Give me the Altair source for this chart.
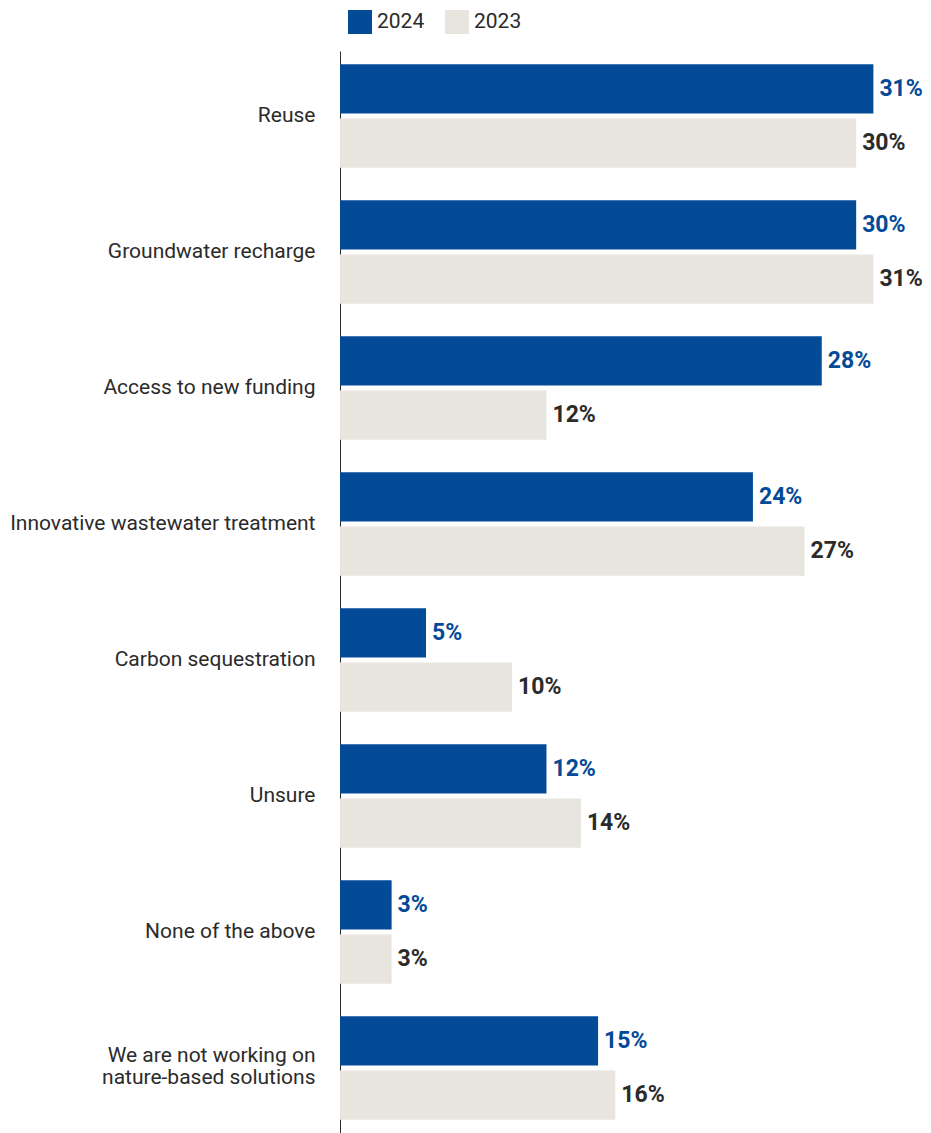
import altair as alt
import pandas as pd

categories = [
    "Reuse",
    "Groundwater recharge",
    "Access to new funding",
    "Innovative wastewater treatment",
    "Carbon sequestration",
    "Unsure",
    "None of the above",
    "We are not working on nature-based solutions",
]
values_2024 = [31, 30, 28, 24, 5, 12, 3, 15]
values_2023 = [30, 31, 12, 27, 10, 14, 3, 16]
years = ["2024", "2023"]

rows = []
for c, v24, v23 in zip(categories, values_2024, values_2023):
    rows.append({"category": c, "year": "2024", "value": v24})
    rows.append({"category": c, "year": "2023", "value": v23})
df = pd.DataFrame(rows)

BLUE = "#034A97"
BEIGE = "#E8E5DE"
DARK = "#2B2B2B"
FONT = "Roboto"

LONG = "We are not working on nature-based solutions"
label_expr = (
    f"datum.label == '{LONG}' ? "
    "['We are not working on', 'nature-based solutions'] : datum.label"
)

y_enc = alt.Y(
    "category:N",
    sort=categories,
    scale=alt.Scale(paddingInner=0.24, paddingOuter=0.098),
    axis=alt.Axis(
        title=None,
        ticks=False,
        labelPadding=25,
        labelFontSize=21,
        labelFont=FONT,
        labelColor=DARK,
        labelLimit=400,
        labelExpr=label_expr,
        labelLineHeight=22,
        labelOffset={"condition": {"test": f"datum.label == '{LONG}'", "value": -12}, "value": 0},
        domainColor=DARK,
        domainWidth=1,
        grid=False,
    ),
)
yoff = alt.YOffset("year:N", sort=years, scale=alt.Scale(paddingInner=0.09, paddingOuter=0))
x_enc = alt.X("value:Q", scale=alt.Scale(domain=[0, 34]), axis=None)

bars = alt.Chart(df).mark_bar().encode(
    x=x_enc,
    y=y_enc,
    yOffset=yoff,
    color=alt.Color(
        "year:N",
        scale=alt.Scale(domain=years, range=[BLUE, BEIGE]),
        legend=alt.Legend(
            title=None,
            orient="none",
            direction="horizontal",
            legendX=8,
            legendY=-41,
            symbolType="square",
            symbolSize=576,
            symbolStrokeWidth=0,
            labelFontSize=21,
            labelFont=FONT,
            labelColor=DARK,
            columnPadding=20,
            labelOffset=5,
        ),
    ),
)

texts = (
    alt.Chart(df)
    .transform_calculate(label="datum.value + '%'")
    .mark_text(align="left", baseline="middle", dx=6, fontSize=23, fontWeight="bold", font=FONT)
    .encode(
        x=x_enc,
        y=alt.Y("category:N", sort=categories),
        yOffset=yoff,
        text="label:N",
        color=alt.condition(alt.datum.year == "2024", alt.value(BLUE), alt.value(DARK)),
    )
)

chart = (
    alt.layer(bars, texts)
    .properties(
        width=585,
        height=1082,
        autosize=alt.AutoSizeParams(type="none"),
        padding={"left": 340, "top": 51, "right": 6, "bottom": 0},
    )
    .configure_view(stroke=None)
)

chart.save("out.html", embed_options={"renderer": "svg", "actions": False})
